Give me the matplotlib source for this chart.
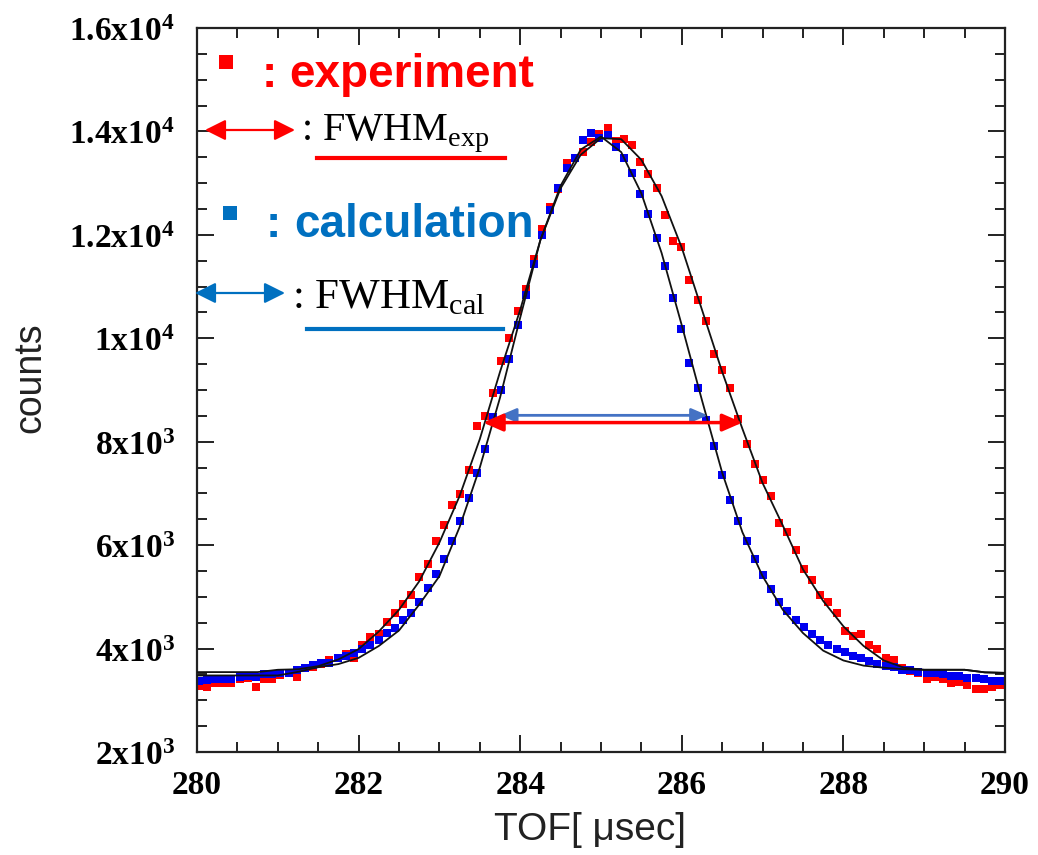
import numpy as np
import matplotlib
matplotlib.use('Agg')
import matplotlib.pyplot as plt
from matplotlib.lines import Line2D

plt.rcParams['mathtext.fontset'] = 'custom'
plt.rcParams['mathtext.rm'] = 'Liberation Serif'
plt.rcParams['mathtext.bf'] = 'Liberation Serif:bold'

# ---------------------------------------
# data
# ---------------------------------------
tof = np.linspace(280.02, 289.94, 99)

exp_counts = [3275, 3250, 3330, 3340, 3340, 3420, 3440, 3250, 3405, 3405,
              3490, 3520, 3455, 3615, 3635, 3710, 3775, 3810, 3895, 3810,
              4070, 4215, 4290, 4515, 4685, 4865, 5035, 5385, 5645, 6075,
              6385, 6770, 6995, 7460, 8300, 8490, 8950, 9555, 10005, 10520,
              10955, 11535, 12115, 12530, 12885, 13380, 13485, 13610, 13800, 13950,
              14065, 13820, 13850, 13740, 13400, 13180, 12910, 12390, 11880, 11770,
              11130, 10740, 10340, 9690, 9390, 9040, 8440, 7950, 7560, 7265,
              6945, 6430, 6255, 5900, 5545, 5335, 5030, 4905, 4690, 4340,
              4240, 4290, 4065, 3985, 3810, 3775, 3615, 3570, 3530, 3420,
              3455, 3405, 3340, 3355, 3295, 3210, 3210, 3260, 3295]

cal_counts = [3380, 3390, 3415, 3415, 3410, 3455, 3460, 3455, 3505, 3505,
              3530, 3530, 3585, 3615, 3675, 3715, 3730, 3810, 3865, 3910,
              4000, 4070, 4163, 4295, 4394, 4549, 4684, 4897, 5167, 5437,
              5727, 6074, 6460, 6905, 7387, 7860, 8480, 9000, 9600, 10250,
              10830, 11440, 11990, 12490, 12900, 13300, 13480, 13830, 13960, 13880,
              13940, 13700, 13480, 13200, 12790, 12395, 11930, 11390, 10770, 10170,
              9520, 9040, 8420, 7910, 7350, 6865, 6465, 6080, 5727, 5430,
              5160, 4900, 4730, 4560, 4420, 4290, 4165, 4065, 3985, 3935,
              3855, 3810, 3765, 3710, 3660, 3635, 3595, 3585, 3550, 3530,
              3520, 3500, 3465, 3465, 3435, 3435, 3420, 3380, 3370]

fit_tof = np.arange(280.0, 290.01, 0.25)

fit_exp = [3545, 3545, 3545, 3545, 3590, 3600, 3660, 3790, 3990, 4330,
           4750, 5300, 6050, 6950, 8050, 9350, 10550, 11900, 12900, 13550,
           13870, 13850, 13450, 12750, 11750, 10550, 9350, 8250, 7200, 6380,
           5530, 4920, 4430, 4050, 3770, 3630, 3590, 3590, 3590, 3540, 3530]

fit_cal = [3480, 3480, 3480, 3480, 3480, 3550, 3640, 3700, 3820, 4050,
           4350, 4850, 5400, 6350, 7500, 8850, 10400, 11900, 12950, 13650,
           13900, 13600, 12800, 11650, 10250, 8800, 7400, 6250, 5400, 4750,
           4300, 3960, 3770, 3670, 3630, 3600, 3590, 3590, 3590, 3540, 3530]

# FWHM markers (start, end, level)
fwhm_exp = (283.54, 286.75, 8370)
fwhm_cal = (283.75, 286.32, 8510)

ytick_vals = [2000, 4000, 6000, 8000, 10000, 12000, 14000, 16000]
ytick_text = [r'$\mathbf{2x10^{3}}$', r'$\mathbf{4x10^{3}}$', r'$\mathbf{6x10^{3}}$',
              r'$\mathbf{8x10^{3}}$', r'$\mathbf{1x10^{4}}$', r'$\mathbf{1.2x10^{4}}$',
              r'$\mathbf{1.4x10^{4}}$', r'$\mathbf{1.6x10^{4}}$']
xtick_vals = [280, 282, 284, 286, 288, 290]

RED = '#ff0000'
BLUE = '#0000f0'
LBLUE = '#0070c0'
ABLUE = '#4472c4'

W, H = 1038, 855
def fx(px):
    return px / W
def fy(py):
    return 1 - py / H

fig = plt.figure(figsize=(W/100, H/100), dpi=100)
ax = fig.add_axes([fx(197), fy(752), (1005-197)/W, (752-28)/H])

ax.plot(tof, exp_counts, ls='none', marker='s', ms=5.4, mew=0, color=RED, zorder=2)
ax.plot(tof, cal_counts, ls='none', marker='s', ms=5.4, mew=0, color=BLUE, zorder=2)
ax.plot(fit_tof, fit_exp, color='#111111', lw=1.3, zorder=3)
ax.plot(fit_tof, fit_cal, color='#111111', lw=1.3, zorder=3)

ax.set_xlim(280, 290)
ax.set_ylim(2000, 16000)
ax.set_xticks(xtick_vals)
ax.set_xticklabels([str(v) for v in xtick_vals], fontfamily='Liberation Serif',
                   fontweight='bold', fontsize=24)
ax.set_xticks(np.arange(280, 290.01, 0.5), minor=True)
ax.set_yticks(ytick_vals)
ax.set_yticklabels(ytick_text, fontsize=24)
ax.set_yticks(np.arange(2000, 16001, 500), minor=True)
ax.tick_params(which='both', direction='in', top=True, right=True, width=1.4, color='#222222')
ax.tick_params(which='major', length=12)
ax.tick_params(which='minor', length=7)
ax.tick_params(axis='x', which='major', pad=13)
ax.tick_params(axis='y', which='major', pad=16)
for sp in ax.spines.values():
    sp.set_linewidth(1.6)
    sp.set_color('#222222')

fig.text(fx(30), fy(378), 'counts', rotation=90, ha='center', va='center',
         fontsize=27, fontfamily='Liberation Sans', color='#222222')
fig.text(fx(590), fy(830), 'TOF[ μsec]', ha='center', va='center',
         fontsize=28, fontfamily='Liberation Sans', color='#222222')

# FWHM arrows inside the plot
ax.annotate('', xy=(fwhm_cal[1], fwhm_cal[2]), xytext=(fwhm_cal[0], fwhm_cal[2]),
            arrowprops=dict(arrowstyle='<|-|>,head_length=0.7,head_width=0.3',
                            color=ABLUE, lw=2, shrinkA=0, shrinkB=0, mutation_scale=14),
            zorder=4)
ax.annotate('', xy=(fwhm_exp[1], fwhm_exp[2]), xytext=(fwhm_exp[0], fwhm_exp[2]),
            arrowprops=dict(arrowstyle='<|-|>,head_length=0.8,head_width=0.35',
                            color=RED, lw=2.5, shrinkA=0, shrinkB=0, mutation_scale=15),
            zorder=4)

# hand made legend
fig.add_artist(Line2D([fx(226)], [fy(62)], marker='s', ms=10, mew=0, color=RED))
fig.text(fx(262), fy(87), ':', fontsize=33, fontweight='bold',
         fontfamily='Liberation Sans', color=RED, va='baseline')
fig.text(fx(289), fy(87), 'experiment', fontsize=33, fontweight='bold',
         fontfamily='Liberation Sans', color=RED, va='baseline')

fig.add_artist(Line2D([fx(230)], [fy(213)], marker='s', ms=10, mew=0, color=LBLUE))
fig.text(fx(266), fy(237), ':', fontsize=33, fontweight='bold',
         fontfamily='Liberation Sans', color=LBLUE, va='baseline')
fig.text(fx(294), fy(237), 'calculation', fontsize=33, fontweight='bold',
         fontfamily='Liberation Sans', color=LBLUE, va='baseline')

ax.annotate('', xy=(fx(295), fy(130)), xytext=(fx(205), fy(130)),
            xycoords='figure fraction', textcoords='figure fraction',
            arrowprops=dict(arrowstyle='<|-|>,head_length=0.7,head_width=0.35',
                            color=RED, lw=1.6, shrinkA=0, shrinkB=0, mutation_scale=18))
fig.text(fx(301), fy(140), ': FWHM$_{\\mathrm{exp}}$', fontsize=29,
         fontfamily='Liberation Serif', color='black', va='baseline')
fig.add_artist(Line2D([fx(317), fx(505)], [fy(158), fy(158)], color=RED, lw=3))

ax.annotate('', xy=(fx(285), fy(293)), xytext=(fx(195), fy(293)),
            xycoords='figure fraction', textcoords='figure fraction',
            arrowprops=dict(arrowstyle='<|-|>,head_length=0.7,head_width=0.35',
                            color=LBLUE, lw=1.6, shrinkA=0, shrinkB=0, mutation_scale=18))
fig.text(fx(292), fy(308), ': FWHM$_{\\mathrm{cal}}$', fontsize=31,
         fontfamily='Liberation Serif', color='black', va='baseline')
fig.add_artist(Line2D([fx(307), fx(503)], [fy(329), fy(329)], color=LBLUE, lw=3))

fig.savefig('out.png', dpi=100)
